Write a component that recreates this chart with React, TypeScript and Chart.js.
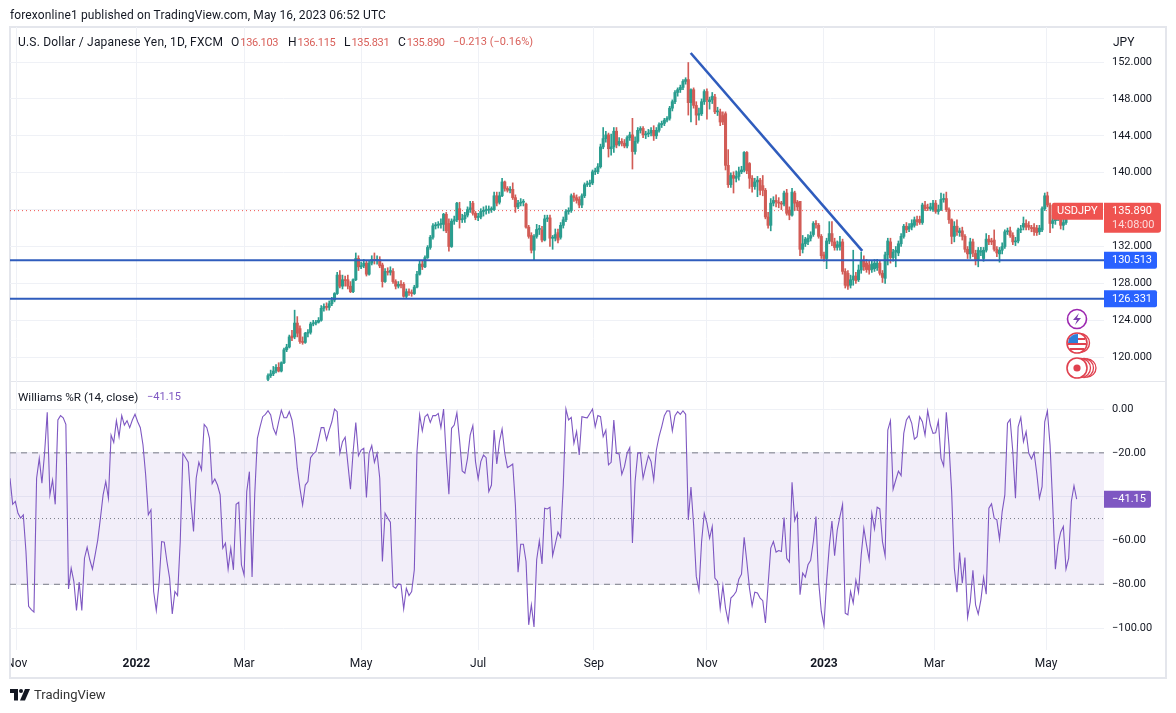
import React, { useEffect, useRef } from "react";
import { Chart, registerables } from "chart.js";

Chart.register(...registerables);

const candleFirstIndex = 97;
const candleOpen = [
  117.6,118.0,118.2,
  118.5,118.9,118.5,119.4,120.8,121.1,122.3,122.2,123.7,123.1,
  121.7,121.6,122.6,122.7,123.6,123.7,123.8,124.0,125.3,125.5,
  125.4,125.8,126.2,126.9,128.9,127.7,128.4,128.4,127.7,127.1,
  128.4,130.7,129.8,129.9,130.2,129.0,130.2,130.6,130.5,130.6,
  130.0,128.2,129.3,129.2,129.3,128.2,127.7,127.9,127.9,126.6,
  127.1,127.0,126.9,127.6,129.0,130.1,129.8,130.8,131.9,133.0,
  134.25,134.3,134.4,134.4,135.5,134.5,132.0,134.75,134.9,136.1,
  134.9,135.0,135.4,136.0,136.7,135.6,135.15,135.2,135.8,135.9,
  135.95,136.0,136.0,137.5,136.8,137.5,139.0,138.3,138.1,138.2,
  137.3,136.3,136.7,136.8,136.6,134.1,133.2,131.6,133.1,133.85,
  133.8,132.7,135.0,135.1,132.9,132.9,133.5,133.0,134.3,134.9,
  135.8,135.9,137.5,137.3,137.1,136.5,137.5,138.7,138.8,138.9,
  140.1,140.1,140.65,142.8,143.7,144.1,142.6,142.8,144.5,143.1,
  143.4,143.2,142.9,143.8,144.1,142.3,143.4,144.6,144.8,144.1,
  144.2,144.3,144.6,144.0,144.6,145.2,145.35,145.7,145.9,147.0,
  147.7,148.7,149.0,149.25,149.9,150.1,147.6,149.0,147.3,146.25,
  146.4,147.7,148.8,147.7,147.9,148.2,146.6,146.6,146.2,146.4,
  140.8,138.7,139.7,139.4,139.6,140.1,140.3,142.2,141.0,139.4,
  138.5,139.0,139.2,138.6,138.1,135.2,134.3,136.7,137.0,136.8,
  136.65,136.6,137.8,135.95,135.4,137.8,136.8,136.9,131.7,132.3,
  132.5,132.9,133.3,134.5,134.3,133.1,131.1,130.7,132.6,133.4,
  132.5,131.9,132.0,132.5,129.3,129.1,127.8,128.4,128.8,128.4,
  129.45,130.5,130.2,130.0,129.5,129.6,129.7,130.2,129.1,128.55,
  131.1,132.5,130.8,131.4,131.3,132.3,133.1,134.2,133.9,134.1,
  134.3,134.9,134.95,134.6,136.5,136.2,136.1,136.0,136.7,135.8,
  136.0,137.1,137.2,136.0,134.9,133.1,134.2,133.5,133.7,133.1,
  131.7,131.2,132.5,131.25,130.6,131.4,130.7,131.6,132.8,132.6,
  132.7,131.7,131.2,131.6,132.0,133.6,133.7,133.2,132.5,132.6,
  133.8,134.1,134.5,134.3,134.0,134.07,134.0,133.6,133.8,136.1,
  137.5,136.5,134.5,134.8,135.1,135.2,134.3,134.6,135.7,136.1,
  135.9,136.103,
];
const candleClose = [
  118.0,118.2,118.5,
  118.9,118.5,119.4,120.8,121.1,122.2,122.1,123.7,122.6,121.7,
  121.6,122.6,122.7,123.6,123.7,123.8,124.0,125.3,125.5,125.4,
  125.8,126.2,126.9,128.9,127.7,128.4,128.3,127.7,127.1,128.4,
  130.7,129.8,129.9,130.2,129.0,130.2,130.6,130.5,130.6,129.9,
  128.2,129.3,129.2,129.4,128.2,127.7,127.9,127.8,126.6,127.1,
  127.0,126.9,127.6,129.0,130.1,129.8,130.8,131.9,133.0,134.25,
  134.3,134.4,134.5,135.5,133.7,132.0,134.75,134.9,136.7,134.9,
  135.0,135.4,136.0,136.2,135.6,135.15,135.2,135.8,135.9,135.95,
  136.0,136.05,137.5,136.7,137.5,139.0,138.3,138.1,138.2,137.3,
  136.3,136.7,136.8,136.9,134.1,133.1,131.6,133.1,133.85,133.9,
  132.7,135.0,135.0,132.9,132.9,133.3,132.7,134.3,134.9,135.8,
  135.9,137.5,137.3,137.0,136.5,137.5,138.7,138.8,138.9,140.1,
  140.1,140.65,142.8,143.7,144.1,142.6,142.8,144.5,143.0,143.4,
  143.2,142.9,143.8,144.1,142.3,143.4,144.6,144.8,144.1,144.2,
  144.3,144.6,144.0,144.6,145.2,145.35,145.7,145.9,147.0,147.7,
  148.7,149.0,149.25,149.9,150.1,147.6,149.0,147.3,146.25,146.4,
  147.7,148.8,147.9,147.9,148.3,146.6,146.7,145.5,145.5,140.8,
  138.7,139.7,139.4,139.6,140.1,140.3,142.2,140.2,139.4,138.5,
  139.0,139.2,138.1,138.1,135.2,134.3,136.7,137.0,136.85,136.7,
  136.6,137.8,135.6,135.4,137.9,136.7,136.3,131.7,132.3,132.8,
  132.9,133.2,134.5,134.4,133.1,131.0,130.7,132.6,133.4,132.5,
  131.9,132.2,132.5,129.3,127.8,127.7,128.4,128.8,128.3,129.45,
  130.5,129.8,129.5,129.45,130.1,130.2,130.2,129.1,128.65,131.1,
  132.6,130.8,131.4,131.6,132.3,133.1,134.2,133.8,134.15,134.5,
  134.9,134.7,134.6,136.5,136.1,136.15,136.3,136.7,135.8,136.0,
  137.1,137.2,136.0,134.9,133.1,134.2,133.6,133.7,133.1,131.7,
  131.2,132.5,131.3,130.6,131.6,131.5,131.6,132.8,132.5,132.5,
  131.7,131.3,131.6,132.0,133.6,133.7,133.2,132.5,132.6,133.8,
  133.9,134.5,134.1,134.1,133.95,133.6,133.5,134.0,136.1,137.5,
  136.5,134.5,134.8,135.1,135.2,134.3,134.6,135.7,136.1,135.9,
  136.1,135.89,
];
const candleHigh = [
  118.2,118.6,119.0,
  119.2,119.4,119.5,121.0,121.4,122.4,122.9,125.1,124.4,123.4,
  122.2,122.7,123.0,123.8,124.0,124.0,124.3,125.6,125.8,125.9,
  126.1,126.5,127.0,129.2,129.4,128.9,128.8,128.9,128.2,128.5,
  131.3,131.0,130.3,130.6,130.5,130.5,131.0,131.3,131.0,130.9,
  130.2,129.6,129.7,129.8,129.6,128.4,128.2,128.3,128.1,127.4,
  127.4,127.3,127.8,129.3,130.4,130.4,131.0,132.1,133.2,134.5,
  134.6,134.7,135.0,135.6,135.7,135.0,135.0,135.3,136.8,136.8,
  135.5,135.7,136.3,136.9,136.9,135.8,135.6,136.1,136.3,136.4,
  136.4,136.3,137.9,137.9,137.9,139.4,139.1,138.5,138.5,138.9,
  137.6,137.0,137.2,137.1,136.7,134.3,133.5,133.3,134.4,134.3,
  134.2,135.4,135.4,135.4,133.2,133.9,133.9,134.6,135.2,136.0,
  136.2,137.7,137.8,137.6,137.4,137.7,138.9,139.1,139.2,140.3,
  140.5,141.0,143.1,144.9,144.5,144.3,144.2,144.9,144.9,143.8,
  143.7,143.6,144.0,144.4,145.9,143.9,144.9,145.0,145.0,144.5,
  144.7,144.9,145.1,144.9,145.4,145.6,145.9,146.1,147.2,147.9,
  148.9,149.2,149.5,150.1,150.3,151.95,149.1,149.2,147.7,147.0,
  148.0,149.0,149.1,148.2,148.7,148.5,147.1,146.9,146.6,146.6,
  142.5,140.0,140.1,140.2,140.6,140.7,142.3,142.3,141.1,139.7,
  139.4,139.6,139.4,139.7,138.3,135.7,137.2,137.4,137.6,137.3,
  136.9,138.0,138.2,136.3,138.3,138.0,137.0,136.9,133.2,133.0,
  133.3,133.6,134.7,134.8,134.5,133.3,131.4,132.9,134.7,134.7,
  132.9,132.6,133.1,132.8,129.6,129.4,128.9,131.6,129.2,130.0,
  131.4,131.0,130.6,130.4,130.5,130.6,130.6,130.4,129.4,131.4,
  132.9,132.9,131.7,132.0,132.6,133.4,134.4,134.6,134.5,134.9,
  135.2,135.3,135.3,136.7,136.9,136.6,136.7,137.0,137.0,136.5,
  137.8,137.7,137.9,136.2,135.0,134.7,134.9,134.0,134.1,133.3,
  132.0,132.9,132.8,131.6,131.9,131.9,131.9,133.4,133.2,132.9,
  133.8,132.0,131.9,132.4,133.8,134.0,134.1,133.5,133.0,134.0,
  134.3,135.2,134.9,134.7,134.3,134.5,134.3,134.3,136.3,137.8,
  137.9,136.7,135.4,135.6,135.6,135.5,135.1,136.0,136.5,136.4,
  136.3,136.115,
];
const candleLow = [
  117.3,117.8,118.0,
  118.3,118.4,118.4,119.3,120.6,121.0,121.8,122.0,122.2,121.5,
  121.4,121.5,122.2,122.5,123.4,123.5,123.7,123.9,125.0,125.1,
  125.1,125.6,126.0,126.8,127.5,127.4,127.7,127.4,127.0,127.0,
  128.3,129.4,129.6,129.7,128.8,128.9,130.0,130.1,130.1,129.7,
  127.6,128.1,128.9,128.9,128.0,127.4,127.5,127.5,126.5,126.4,
  126.7,126.6,126.8,127.5,128.9,129.5,129.7,130.7,131.7,132.8,
  133.9,134.0,134.0,133.7,133.5,131.5,131.9,134.4,134.7,134.0,
  134.6,134.6,135.2,135.7,135.4,134.9,134.8,135.0,135.3,135.5,
  135.6,135.7,135.9,136.4,136.6,137.4,138.0,137.9,137.8,137.1,
  135.7,136.1,136.4,136.4,134.0,132.9,131.3,130.5,132.9,133.3,
  132.5,132.6,134.7,132.0,131.7,132.6,132.4,132.8,134.0,134.7,
  135.5,135.7,136.9,136.7,136.2,136.2,137.3,138.5,138.5,138.7,
  139.8,139.9,140.5,142.6,143.3,141.7,141.9,142.2,142.7,142.9,
  142.9,142.7,142.7,143.5,140.4,142.0,143.2,144.3,143.8,143.7,
  143.9,144.0,143.5,143.7,144.4,144.9,145.1,145.5,145.7,146.7,
  147.5,148.3,148.7,149.0,149.6,146.25,145.5,147.0,145.2,145.7,
  146.2,147.4,145.8,146.9,147.5,146.4,146.2,145.1,145.2,140.3,
  138.4,138.4,137.8,139.0,139.2,139.9,140.1,139.9,138.3,137.9,
  138.2,137.4,137.6,137.5,135.0,134.0,133.7,136.4,136.3,136.2,
  136.0,136.4,135.4,134.9,135.3,135.9,135.9,131.0,131.3,132.0,
  132.2,132.6,133.1,134.0,132.9,130.7,130.4,129.6,132.3,132.1,
  131.6,131.6,131.6,129.0,127.5,127.35,127.5,127.8,128.0,128.2,
  129.1,129.4,129.2,129.0,129.2,129.3,129.4,128.9,128.1,128.0,
  130.0,130.2,130.4,129.8,131.0,132.0,132.9,133.5,133.6,133.8,
  134.1,134.3,134.4,134.4,135.9,135.9,135.9,135.8,135.6,135.5,
  135.9,136.8,135.8,134.5,132.3,132.5,133.2,133.1,132.7,131.4,
  130.7,130.7,130.9,130.0,129.8,131.0,130.4,131.4,132.2,132.2,
  131.5,130.9,130.3,131.2,131.8,133.3,133.0,132.2,132.1,132.4,
  133.5,133.8,133.8,133.8,133.6,133.2,133.2,133.3,133.6,135.9,
  136.3,133.5,134.0,134.4,134.8,133.9,133.8,134.4,135.5,135.8,
  135.7,135.831,
];

const williamsR = [
  -31.6,-43.5,-42.2,-47.6,-49.8,-48.3,-65,-90.1,-91.6,-92.7,-31.6,-22.5,-33.9,-20.2,-1.5,-39.2,-32.4,-43.5,-5,-3,-4,-7,
  -82.1,-72.6,-78.7,-91.9,-79,-91.9,-68.1,-63.1,-68.8,-73.1,-66.6,-59.7,-49.8,-39.2,-33.1,-40.7,-11.9,-15.2,-5.3,
  -12.6,-3,-7.3,-5.3,-8.5,-5,-2.4,-5.8,-8.5,-16.4,-30.1,-48.3,-46,-83.3,-91.9,-80.2,-60.5,-60.8,-69.6,-77.2,-93.5,-83.3,
  -85.1,-60.5,-20.2,-22.2,-24.3,-42.2,-55.9,-31.6,-24.3,-27.8,-7,-8.5,-13.4,-34,-31.9,-34.7,-39.2,-63.5,-61.2,-73.1,-63.5,
  -73.4,-43.5,-42.6,-71.1,-75.7,-37.7,-28.6,-76.7,-39.2,-13.4,-8.1,-3.5,-2.4,-0.8,-2.7,-8.8,-11.6,-5.8,-0.5,-4,-4,-1.2,
  -5,-13.4,-27,-36.2,-43.8,-34.7,-33.1,-22.2,-20.5,-19.5,-14.1,-8.5,-8.5,-14.1,-9.6,-5.8,0,-1.2,-20.2,-14.9,-12.9,-24.8,
  -36.6,-19.5,-6.2,-21.3,-18.7,-17.9,-40.4,-20.2,-16.7,-24.3,-20.2,-31.6,-69.6,
  -47.6,-49.8,-51.7,-81,-81.8,-79.8,-80.2,-91.2,-81.8,-85.1,-83.3,-73.4,-19.5,-2.7,-10,-3.5,-2.4,-6.1,-3,-3,-2,-8.5,0,
  -21.7,-38.9,-8.8,-7.3,-1.7,-14.1,-28.3,-29.3,-22.5,-11.9,-7.6,-24,-31.9,-24,-21,-22.2,-37.7,-34.7,-9.6,-25.1,-14.9,-9.1,
  -20.2,-26.7,-26,-25.1,-43.8,-74.5,-61.7,-61.7,-69.6,-98.5,-89.4,-99.5,-68.8,-60.2,-70.7,-45.3,-45.6,-44.8,-66.9,-61.7,
  -56.2,-58.5,-34.7,0,-5,-3.8,-15.7,-10.3,-21,-3.5,-3.8,-4,-2,0,-8.1,-3,-3.5,-12.6,-9.6,-25.5,-24.3,-5,-20.2,-20.5,
  -29.8,-26.3,-20.2,-17.6,-61.2,-33.1,-20.2,-19.9,-31.6,-26.3,-21.3,-24,-32.4,-18.7,-12.6,-8.1,-3,-0.8,-0.9,-10,-3,-1.2,
  -2.4,-0.8,-2.4,-50.6,-35.6,-52.9,-76.4,-82.8,-60.5,-47.6,-52.1,-59,-53.6,-77.2,-78.7,-91.2,-80.7,-90.9,-97,-86.3,-85.1,
  -83.3,-77.7,-75.4,-58.5,-69.6,-81.8,-89.8,-83.6,-84,-86.3,-87.5,-97.7,-80.2,-63.5,-60.5,-65.3,-64.6,-65,
  -49.5,-68.1,-69.9,-33.4,-50.9,-47.6,-84.8,-74.9,-76.7,-71.1,-69.1,-60.5,-49.1,-78.7,-92.4,-98.8,-78.7,-62.8,-51.1,-67,
  -55.2,-49.1,-43.5,-93.2,-93.9,-83.3,-88.6,-78.1,-83.7,-66.6,-54.4,-62,-68.8,-47.6,-54.7,-44.8,-45.6,-60.5,-67,-9.6,-5.3,
  -36.6,-32.4,-28.3,-30.4,-11.1,-5,-3.2,-6.5,-13.7,-12.6,-3.5,-5.8,-11.9,-0.8,-7.3,-11.1,-10.8,-5.5,-22.5,-26,-1.5,-16.4,
  -37.7,-72.6,-83.6,-65.5,-79.5,-67.8,-95.1,-88.1,-73.6,-89.4,-93.6,-87.1,-76.9,-84.5,-45.3,-43.3,-49.8,-50.6,-59.4,
  -46.8,-39.2,-6.5,-4.7,-19.5,-40.7,-8.1,-3.8,-14.9,-10.3,-20.2,-22.8,-19.9,-29.3,-40.7,-35.4,-5.8,-0.9,-16.4,-43.8,-73.1,
  -62,-56.2,-53.6,-73.1,-68.1,-42.2,-35,-41.15,
];

const priceTicks = [120, 124, 128, 132, 136, 140, 144, 148, 152];
const williamsTicks = [0, -20, -40, -60, -80, -100];
const timeTickIndex = [2.5, 47.5, 88, 132, 176, 219.5, 262, 306, 347.5, 389.5];
const timeTickLabels = ["Nov", "2022", "Mar", "May", "Jul", "Sep", "Nov", "2023", "Mar", "May"];
const supportLevels = [130.513, 126.331];
const lastPrice = 135.89;
const lastWilliams = -41.15;
const trendIndex = [255.9, 320.4];
const trendPrice = [152.98, 131.53];
const williamsBandUpper = -20;
const williamsBandMiddle = -50;
const williamsBandLower = -80;

const UP = "#2a9d8f";
const DOWN = "#d25c56";
const LEVEL = "#2f5cbd";
const BADGE_BLUE = "#2962ff";
const RED = "#ef5350";
const PURPLE = "#7e57c2";
const GRID = "#eff1f6";
const TEXT = "#131722";
const FONT = "Roboto, 'Noto Sans', sans-serif";
const X_MIN = 0;
const X_MAX = 411.28;

function badge(ctx: CanvasRenderingContext2D, x: number, y: number, w: number, h: number, color: string, r = 2) {
  ctx.fillStyle = color;
  ctx.beginPath();
  ctx.roundRect(x, y, w, h, [0, r, r, 0]);
  ctx.fill();
}

const framePlugin = {
  id: "frame",
  beforeDraw(chart: any) {
    const { ctx, scales } = chart;
    ctx.save();
    ctx.strokeStyle = "#e4e6ec";
    ctx.lineWidth = 2;
    ctx.strokeRect(10, 27, 1156, 651);
    ctx.lineWidth = 1;
    ctx.beginPath();
    const sep = Math.round(scales.price.bottom) + 0.5;
    ctx.moveTo(10, sep);
    ctx.lineTo(1166, sep);
    ctx.stroke();
    ctx.restore();
  },
  afterDraw(chart: any) {
    const { ctx, scales } = chart;
    const { price, wr } = scales;
    ctx.save();
    ctx.fillStyle = "#fff";
    ctx.fillRect(0, 651, 9, 26);
    ctx.fillStyle = "#e4e6ec";
    ctx.fillRect(9, 651, 2, 26);
    ctx.textBaseline = "middle";
    ctx.textAlign = "left";
    ctx.font = `11px ${FONT}`;
    const py = price.getPixelForValue(lastPrice);
    badge(ctx, 1104, py - 8, 57, 30, RED, 3);
    ctx.fillStyle = RED;
    ctx.beginPath();
    ctx.roundRect(1052, py - 8, 51, 17, [2, 0, 0, 2]);
    ctx.fill();
    ctx.fillStyle = "#fff";
    ctx.fillText("USDJPY", 1057, py + 1);
    ctx.fillText("135.890", 1112, py + 1);
    ctx.fillStyle = "#fbdcdb";
    ctx.fillText("14:08:00", 1112, py + 15);
    supportLevels.forEach((lv) => {
      const y = price.getPixelForValue(lv);
      badge(ctx, 1104, y - 8.5, 53, 17, BADGE_BLUE, 2);
      ctx.fillStyle = "#fff";
      ctx.fillText(lv.toFixed(3), 1112, y + 0.5);
    });
    const wy = wr.getPixelForValue(lastWilliams);
    badge(ctx, 1104, wy - 8.5, 47, 17, PURPLE, 2);
    ctx.fillStyle = "#fff";
    ctx.fillText("\u2212" + Math.abs(lastWilliams).toFixed(2), 1112, wy + 0.5);
    ctx.restore();
  },
};

const overlay = (left: number, top: number, extra: React.CSSProperties = {}): React.CSSProperties => ({
  position: "absolute",
  left,
  top,
  whiteSpace: "pre",
  fontFamily: FONT,
  fontSize: 12,
  lineHeight: "16px",
  color: TEXT,
  ...extra,
});

const legendValue: React.CSSProperties = { color: "#d9605a", fontSize: 11, letterSpacing: -0.3, marginLeft: 1 };

export default function App() {
  const ref = useRef<HTMLCanvasElement>(null);
  useEffect(() => {
    const indices = candleOpen.map((_, i) => i + candleFirstIndex);
    const colors = candleOpen.map((o, i) => (candleClose[i] >= o ? UP : DOWN));
    const lastIndex = indices[indices.length - 1];
    const wrStart = lastIndex - (williamsR.length - 1);
    const flat = (v: number) => [{ x: X_MIN, y: v }, { x: X_MAX, y: v }];
    const chart = new Chart(ref.current as HTMLCanvasElement, {
      type: "bar",
      data: {
        datasets: [
          {
            type: "line", yAxisID: "wr", data: flat(williamsBandUpper), borderColor: "#787b86", borderWidth: 1,
            borderDash: [6, 5], pointRadius: 0, fill: { value: williamsBandLower }, backgroundColor: "rgba(126,87,194,0.1)", order: 10,
          },
          { type: "line", yAxisID: "wr", data: flat(williamsBandLower), borderColor: "#787b86", borderWidth: 1, borderDash: [6, 5], pointRadius: 0, order: 9 },
          { type: "line", yAxisID: "wr", data: flat(williamsBandMiddle), borderColor: "#787b86", borderWidth: 1, borderDash: [1, 3], pointRadius: 0, order: 8 },
          {
            type: "line", yAxisID: "wr", data: williamsR.map((v, i) => ({ x: i + wrStart, y: v })), borderColor: PURPLE, borderWidth: 1.1,
            pointRadius: 0, tension: 0, order: 1,
          },
          { type: "line", yAxisID: "price", data: flat(lastPrice), borderColor: RED, borderWidth: 1, borderDash: [1, 3], pointRadius: 0, order: 7 },
          {
            type: "bar", yAxisID: "price", data: indices.map((x, i) => ({ x, y: [candleLow[i], candleHigh[i]] })), backgroundColor: colors,
            barThickness: 1, grouped: false, order: 5,
          },
          {
            type: "bar", yAxisID: "price", data: indices.map((x, i) => ({ x, y: [candleOpen[i], candleClose[i]] })), backgroundColor: colors,
            barThickness: 2.4, minBarLength: 1, grouped: false, order: 4,
          },
          ...supportLevels.map((lv) => ({ type: "line", yAxisID: "price", data: flat(lv), borderColor: LEVEL, borderWidth: 2, pointRadius: 0, order: 3 })),
          {
            type: "line", yAxisID: "price", data: trendIndex.map((x, i) => ({ x, y: trendPrice[i] })), borderColor: LEVEL, borderWidth: 2.6,
            pointRadius: 0, order: 2,
          },
        ] as any,
      },
      options: {
        animation: false,
        responsive: false,
        layout: { padding: { left: 10, top: 27, right: 0, bottom: 35 } },
        plugins: { legend: { display: false }, tooltip: { enabled: false }, title: { display: false } },
        events: [],
        scales: {
          x: {
            type: "linear",
            min: X_MIN,
            max: X_MAX,
            offset: false,
            grid: { color: GRID, drawTicks: false, offset: false },
            border: { display: false },
            afterBuildTicks: (s: any) => {
              s.ticks = timeTickIndex.map((value) => ({ value }));
            },
            afterFit: (s: any) => {
              s.height = 28;
              s.paddingLeft = 0;
              s.paddingRight = 0;
            },
            ticks: {
              autoSkip: false,
              maxRotation: 0,
              padding: 7,
              color: TEXT,
              font: (c: any) => ({
                family: FONT,
                size: 12,
                weight: /^\d/.test(timeTickLabels[c.index] || "") ? "bold" : "normal",
              }),
              callback: (_v: any, i: number) => timeTickLabels[i],
            },
          },
          price: {
            type: "linear",
            position: "right",
            stack: "panes",
            stackWeight: 354,
            min: 117.42,
            max: 155.8,
            grid: { color: GRID, drawTicks: false },
            border: { display: false },
            afterBuildTicks: (s: any) => {
              s.ticks = priceTicks.map((value) => ({ value }));
            },
            afterFit: (s: any) => {
              s.width = 72;
              s.paddingTop = 0;
              s.paddingBottom = 0;
            },
            ticks: { padding: 8, color: TEXT, font: { family: FONT, size: 11 }, callback: (v: any) => Number(v).toFixed(3) },
          },
          wr: {
            type: "linear",
            position: "right",
            stack: "panes",
            stackWeight: 269,
            min: -110,
            max: 12.8,
            grid: { color: GRID, drawTicks: false },
            border: { display: false },
            afterBuildTicks: (s: any) => {
              s.ticks = williamsTicks.map((value) => ({ value }));
            },
            afterFit: (s: any) => {
              s.width = 72;
              s.paddingTop = 0;
              s.paddingBottom = 0;
            },
            ticks: {
              padding: 8,
              color: TEXT,
              font: { family: FONT, size: 11 },
              callback: (v: any) => (Number(v) < 0 ? "\u2212" : "") + Math.abs(Number(v)).toFixed(2),
            },
          },
        },
      } as any,
      plugins: [framePlugin] as any,
    });
    return () => chart.destroy();
  }, []);

  return (
    <div style={{ position: "absolute", left: 0, top: 0, width: 1176, height: 713, background: "#fff", overflow: "hidden" }}>
      <canvas ref={ref} width={1176} height={713} style={{ display: "block", width: 1176, height: 713 }} />
      <div style={overlay(10, 7, { letterSpacing: 0.13 })}>forexonline1 published on TradingView.com, May 16, 2023 06:52 UTC</div>
      <div style={overlay(18, 34, { letterSpacing: 0.2 })}>U.S. Dollar / Japanese Yen, 1D, FXCM</div>
      <div style={overlay(231, 34)}>O<span style={legendValue}>136.103</span></div>
      <div style={overlay(288, 34)}>H<span style={legendValue}>136.115</span></div>
      <div style={overlay(344, 34)}>L<span style={legendValue}>135.831</span></div>
      <div style={overlay(398, 34)}>C<span style={legendValue}>135.890</span></div>
      <div style={overlay(453, 34, { color: "#d9605a", fontSize: 11 })}>{"\u22120.213 (\u22120.16%)"}</div>
      <div style={overlay(1113, 34)}>JPY</div>
      <div style={overlay(18, 389, { fontSize: 11.7 })}>Williams %R (14, close)</div>
      <div style={overlay(147, 389, { fontSize: 11, color: PURPLE })}>{"\u221241.15"}</div>
      <svg width="40" height="80" viewBox="0 0 40 80" style={{ position: "absolute", left: 1062, top: 306 }}>
        <circle cx="15" cy="13" r="9.5" fill="#fff" stroke="#9c27b0" strokeWidth="1.6" />
        <path d="M17 7 L11 14 H15 L13 19 L19 12 H15 Z" fill="#7b3fb0" />
        <circle cx="18" cy="37" r="9.5" fill="#fff" stroke="#e0414f" strokeWidth="1.4" />
        <circle cx="15" cy="37" r="10" fill="#fff" stroke="#e0414f" strokeWidth="1.6" />
        <path d="M7 33 H23 M6 38 H24 M8 43 H22" stroke="#e0414f" strokeWidth="1.8" />
        <path d="M7 33 A10 10 0 0 1 16 28 V37 H6 Z" fill="#2f7fd8" />
        <circle cx="25" cy="62" r="9" fill="#fff" stroke="#e0414f" strokeWidth="1.3" />
        <circle cx="22" cy="62" r="9.5" fill="#fff" stroke="#e0414f" strokeWidth="1.3" />
        <circle cx="19" cy="62" r="9.5" fill="#fff" stroke="#e0414f" strokeWidth="1.3" />
        <circle cx="15" cy="62" r="10" fill="#fff" stroke="#e0414f" strokeWidth="1.6" />
        <circle cx="15" cy="62" r="3.6" fill="#e0414f" />
      </svg>
      <svg width="20" height="12" viewBox="0 0 20 12" style={{ position: "absolute", left: 10, top: 689 }}>
        <path d="M0 0 H8 V11.5 H4 V4 H0 Z" fill="#131722" />
        <circle cx="11" cy="2" r="2" fill="#131722" />
        <path d="M15 0 H20 L15 11.5 H10 Z" fill="#131722" />
      </svg>
      <div style={overlay(34, 687, { fontSize: 13, color: "#333" })}>TradingView</div>
    </div>
  );
}
